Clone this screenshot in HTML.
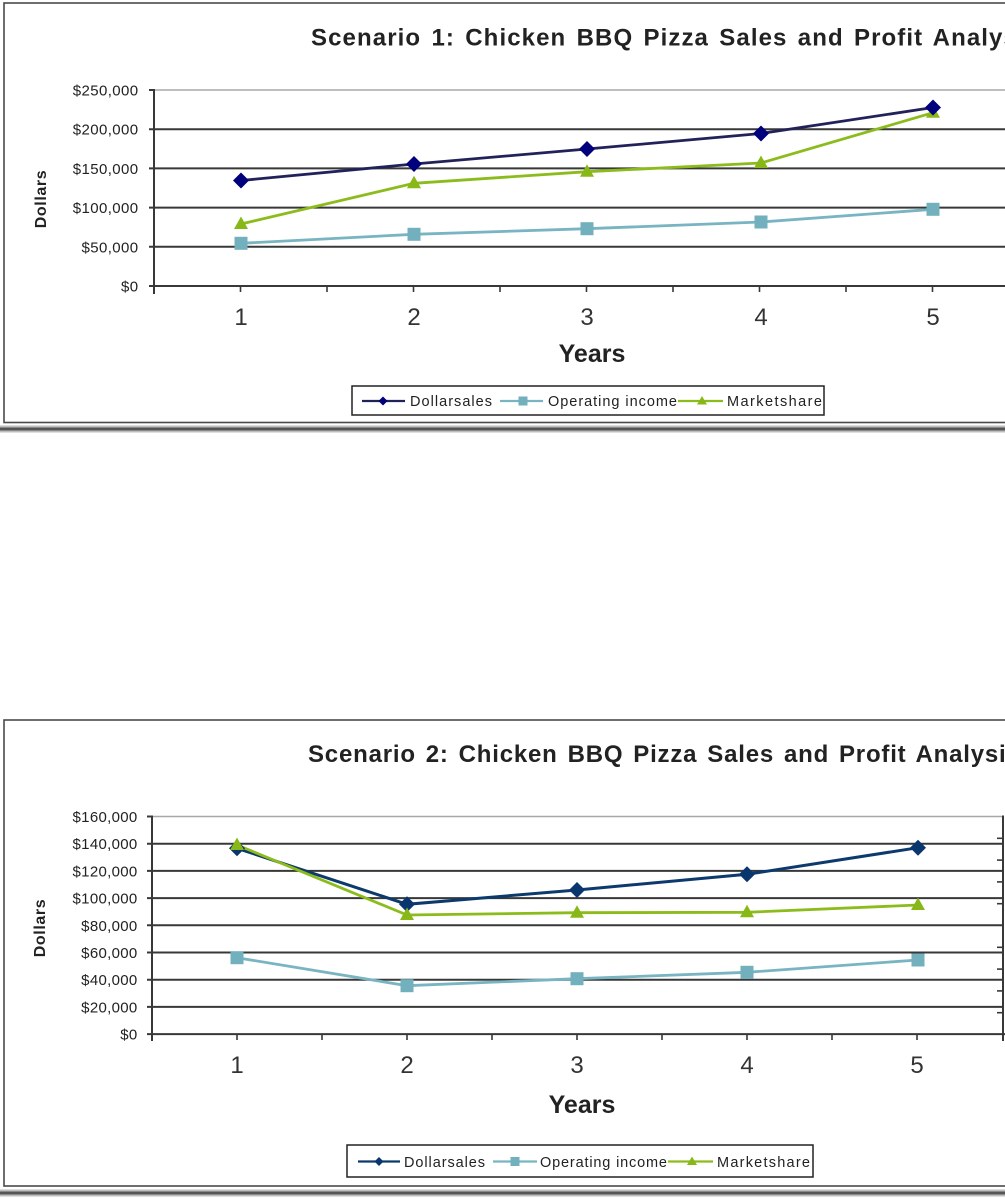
<!DOCTYPE html>
<html>
<head>
<meta charset="utf-8">
<style>
html,body{margin:0;padding:0;background:#fff;}
svg{display:block;}
text{font-family:"Liberation Sans",Arial,sans-serif;}
</style>
</head>
<body>
<svg width="1005" height="1198" viewBox="0 0 1005 1198" xmlns="http://www.w3.org/2000/svg">
<rect x="0" y="0" width="1005" height="1198" fill="#fff"/>

<!-- ================= CHART 1 ================= -->
<rect x="4" y="3" width="1010" height="419.5" fill="#fff" stroke="#4a4a4a" stroke-width="1.6"/>
<rect x="0" y="425.5" width="1005" height="7" fill="#bdbdbd"/>
<rect x="0" y="427.5" width="1005" height="3" fill="#555"/>

<text x="311" y="45.5" font-size="24" font-weight="bold" fill="#222" letter-spacing="1.1" word-spacing="2.5">Scenario 1: Chicken BBQ Pizza Sales and Profit Analysis</text>

<!-- gridlines -->
<line x1="154" y1="90" x2="1005" y2="90" stroke="#a8a8a8" stroke-width="1.5"/>
<g stroke="#383838" stroke-width="2">
<line x1="149" y1="129.2" x2="1005" y2="129.2"/>
<line x1="149" y1="168.4" x2="1005" y2="168.4"/>
<line x1="149" y1="207.6" x2="1005" y2="207.6"/>
<line x1="149" y1="246.8" x2="1005" y2="246.8"/>
<line x1="149" y1="286" x2="1005" y2="286"/>
<line x1="149" y1="90" x2="154" y2="90"/>
<line x1="154" y1="89" x2="154" y2="294"/>
</g>
<g stroke="#383838" stroke-width="1.6">
<line x1="240.5" y1="286" x2="240.5" y2="292"/>
<line x1="327" y1="286" x2="327" y2="292"/>
<line x1="413.5" y1="286" x2="413.5" y2="292"/>
<line x1="500" y1="286" x2="500" y2="292"/>
<line x1="586.5" y1="286" x2="586.5" y2="292"/>
<line x1="673" y1="286" x2="673" y2="292"/>
<line x1="759.5" y1="286" x2="759.5" y2="292"/>
<line x1="846" y1="286" x2="846" y2="292"/>
<line x1="932.5" y1="286" x2="932.5" y2="292"/>
</g>

<!-- y tick labels -->
<g font-size="15" fill="#222" text-anchor="end" letter-spacing="0.4">
<text x="138.5" y="95.5">$250,000</text>
<text x="138.5" y="134.7">$200,000</text>
<text x="138.5" y="173.9">$150,000</text>
<text x="138.5" y="213.1">$100,000</text>
<text x="138.5" y="252.3">$50,000</text>
<text x="138.5" y="291.5">$0</text>
</g>
<!-- x labels -->
<g font-size="24" fill="#333" text-anchor="middle">
<text x="241" y="325">1</text>
<text x="414" y="325">2</text>
<text x="587" y="325">3</text>
<text x="761" y="325">4</text>
<text x="933" y="325">5</text>
</g>
<text x="592" y="362" font-size="25" font-weight="bold" fill="#222" text-anchor="middle">Years</text>
<text transform="translate(46,199) rotate(-90)" font-size="16" font-weight="bold" fill="#222" text-anchor="middle" letter-spacing="0.6">Dollars</text>

<!-- series chart 1 -->
<polyline points="241,243.3 414,234.3 587,228.7 761,222 933,209.3" fill="none" stroke="#78b4c1" stroke-width="2.8"/>
<polyline points="241,224 414,183.3 587,171.7 761,163 933,112.7" fill="none" stroke="#8cbc1c" stroke-width="2.8"/>
<polyline points="241,180.5 414,164 587,149 761,133.5 933,107.5" fill="none" stroke="#22225a" stroke-width="2.8"/>
<g fill="#72b0bd">
<rect x="234.5" y="236.8" width="13" height="13"/>
<rect x="407.5" y="227.8" width="13" height="13"/>
<rect x="580.5" y="222.2" width="13" height="13"/>
<rect x="754.5" y="215.5" width="13" height="13"/>
<rect x="926.5" y="202.8" width="13" height="13"/>
</g>
<g fill="#88b818">
<polygon points="241,216.5 234,229 248,229"/>
<polygon points="414,175.8 407,188.3 421,188.3"/>
<polygon points="587,164.2 580,176.7 594,176.7"/>
<polygon points="761,155.5 754,168 768,168"/>
<polygon points="933,105.2 926,117.7 940,117.7"/>
</g>
<g fill="#00007c">
<polygon points="241,172.5 249,180.5 241,188.5 233,180.5"/>
<polygon points="414,156 422,164 414,172 406,164"/>
<polygon points="587,141 595,149 587,157 579,149"/>
<polygon points="761,125.5 769,133.5 761,141.5 753,133.5"/>
<polygon points="933,99.5 941,107.5 933,115.5 925,107.5"/>
</g>

<!-- legend chart 1 -->
<rect x="352" y="386" width="472" height="29" fill="#fff" stroke="#222" stroke-width="1.5"/>
<line x1="362" y1="401" x2="405" y2="401" stroke="#22225a" stroke-width="2.2"/>
<polygon points="383,396.5 387.5,401 383,405.5 378.5,401" fill="#00007c"/>
<line x1="500" y1="401" x2="543" y2="401" stroke="#78b4c1" stroke-width="2.2"/>
<rect x="518.5" y="396.5" width="9" height="9" fill="#72b0bd"/>
<line x1="678" y1="401" x2="723" y2="401" stroke="#8cbc1c" stroke-width="2.2"/>
<polygon points="702,396 697,404.5 707,404.5" fill="#88b818"/>
<g font-size="14.5" fill="#222">
<text x="410" y="406" textLength="82" lengthAdjust="spacing">Dollarsales</text>
<text x="548" y="406" textLength="129" lengthAdjust="spacing">Operating income</text>
<text x="727" y="406" textLength="95" lengthAdjust="spacing">Marketshare</text>
</g>

<!-- ================= CHART 2 ================= -->
<rect x="4" y="720" width="1010" height="466" fill="#fff" stroke="#4a4a4a" stroke-width="1.6"/>
<rect x="0" y="1189.5" width="1005" height="7" fill="#bdbdbd"/>
<rect x="0" y="1191.5" width="1005" height="3" fill="#555"/>

<text x="308" y="762" font-size="24" font-weight="bold" fill="#222" letter-spacing="0.8" word-spacing="2.5">Scenario 2: Chicken BBQ Pizza Sales and Profit Analysis</text>

<line x1="152" y1="816.5" x2="1003" y2="816.5" stroke="#a8a8a8" stroke-width="1.5"/>
<g stroke="#383838" stroke-width="2">
<line x1="147" y1="843.7" x2="1003" y2="843.7"/>
<line x1="147" y1="870.9" x2="1003" y2="870.9"/>
<line x1="147" y1="898.1" x2="1003" y2="898.1"/>
<line x1="147" y1="925.3" x2="1003" y2="925.3"/>
<line x1="147" y1="952.5" x2="1003" y2="952.5"/>
<line x1="147" y1="979.7" x2="1003" y2="979.7"/>
<line x1="147" y1="1006.9" x2="1003" y2="1006.9"/>
<line x1="147" y1="1034.1" x2="1005" y2="1034.1"/>
<line x1="147" y1="816.5" x2="152" y2="816.5"/>
<line x1="152" y1="815.5" x2="152" y2="1041"/>
<line x1="1003" y1="815.5" x2="1003" y2="1041"/>
</g>
<g stroke="#383838" stroke-width="1.6">
<line x1="237" y1="1034" x2="237" y2="1040"/>
<line x1="322" y1="1034" x2="322" y2="1040"/>
<line x1="407" y1="1034" x2="407" y2="1040"/>
<line x1="492" y1="1034" x2="492" y2="1040"/>
<line x1="577" y1="1034" x2="577" y2="1040"/>
<line x1="662" y1="1034" x2="662" y2="1040"/>
<line x1="747" y1="1034" x2="747" y2="1040"/>
<line x1="832" y1="1034" x2="832" y2="1040"/>
<line x1="917" y1="1034" x2="917" y2="1040"/>
<line x1="997" y1="838.3" x2="1003" y2="838.3"/>
<line x1="997" y1="860.1" x2="1003" y2="860.1"/>
<line x1="997" y1="881.9" x2="1003" y2="881.9"/>
<line x1="997" y1="903.7" x2="1003" y2="903.7"/>
<line x1="997" y1="947.3" x2="1003" y2="947.3"/>
<line x1="997" y1="969.1" x2="1003" y2="969.1"/>
<line x1="997" y1="990.9" x2="1003" y2="990.9"/>
<line x1="997" y1="1012.7" x2="1003" y2="1012.7"/>
</g>

<g font-size="15" fill="#222" text-anchor="end" letter-spacing="0.3">
<text x="137.5" y="822">$160,000</text>
<text x="137.5" y="849.2">$140,000</text>
<text x="137.5" y="876.4">$120,000</text>
<text x="137.5" y="903.6">$100,000</text>
<text x="137.5" y="930.8">$80,000</text>
<text x="137.5" y="958">$60,000</text>
<text x="137.5" y="985.2">$40,000</text>
<text x="137.5" y="1012.4">$20,000</text>
<text x="137.5" y="1039.6">$0</text>
</g>
<g font-size="24" fill="#333" text-anchor="middle">
<text x="237" y="1073">1</text>
<text x="407" y="1073">2</text>
<text x="577" y="1073">3</text>
<text x="747" y="1073">4</text>
<text x="917" y="1073">5</text>
</g>
<text x="582" y="1113" font-size="25" font-weight="bold" fill="#222" text-anchor="middle">Years</text>
<text transform="translate(45,928) rotate(-90)" font-size="16" font-weight="bold" fill="#222" text-anchor="middle" letter-spacing="0.6">Dollars</text>

<!-- series chart 2 -->
<polyline points="237,957.7 407,985.7 577,978.7 747,972.3 918,960" fill="none" stroke="#78b4c1" stroke-width="2.8"/>
<polyline points="237,848.3 407,904.3 577,890 747,874.3 918,847.7" fill="none" stroke="#0c3a6c" stroke-width="3"/>
<polyline points="237,845 407,915 577,912.7 747,912.3 918,905" fill="none" stroke="#8cbc1c" stroke-width="2.8"/>
<g fill="#72b0bd">
<rect x="230.5" y="951.2" width="13" height="13"/>
<rect x="400.5" y="979.2" width="13" height="13"/>
<rect x="570.5" y="972.2" width="13" height="13"/>
<rect x="740.5" y="965.8" width="13" height="13"/>
<rect x="911.5" y="953.5" width="13" height="13"/>
</g>
<g fill="#0a3670">
<polygon points="237,840.3 245,848.3 237,856.3 229,848.3"/>
<polygon points="407,896.3 415,904.3 407,912.3 399,904.3"/>
<polygon points="577,882 585,890 577,898 569,890"/>
<polygon points="747,866.3 755,874.3 747,882.3 739,874.3"/>
<polygon points="918,839.7 926,847.7 918,855.7 910,847.7"/>
</g>
<g fill="#88b818">
<polygon points="237,837.5 230,850 244,850"/>
<polygon points="407,907.5 400,920 414,920"/>
<polygon points="577,905.2 570,917.7 584,917.7"/>
<polygon points="747,904.8 740,917.3 754,917.3"/>
<polygon points="918,897.5 911,910 925,910"/>
</g>

<!-- legend chart 2 -->
<rect x="347" y="1145" width="466" height="32" fill="#fff" stroke="#222" stroke-width="1.5"/>
<line x1="358" y1="1161.5" x2="400" y2="1161.5" stroke="#0c3a6c" stroke-width="2.2"/>
<polygon points="379,1157 383.5,1161.5 379,1166 374.5,1161.5" fill="#0a3670"/>
<line x1="493" y1="1161.5" x2="537" y2="1161.5" stroke="#78b4c1" stroke-width="2.2"/>
<rect x="510.5" y="1157" width="9" height="9" fill="#72b0bd"/>
<line x1="668" y1="1161.5" x2="713" y2="1161.5" stroke="#8cbc1c" stroke-width="2.2"/>
<polygon points="692,1156.5 687,1165 697,1165" fill="#88b818"/>
<g font-size="14.5" fill="#222">
<text x="404" y="1167" textLength="81" lengthAdjust="spacing">Dollarsales</text>
<text x="540" y="1167" textLength="127" lengthAdjust="spacing">Operating income</text>
<text x="717" y="1167" textLength="93" lengthAdjust="spacing">Marketshare</text>
</g>
</svg>
</body>
</html>
